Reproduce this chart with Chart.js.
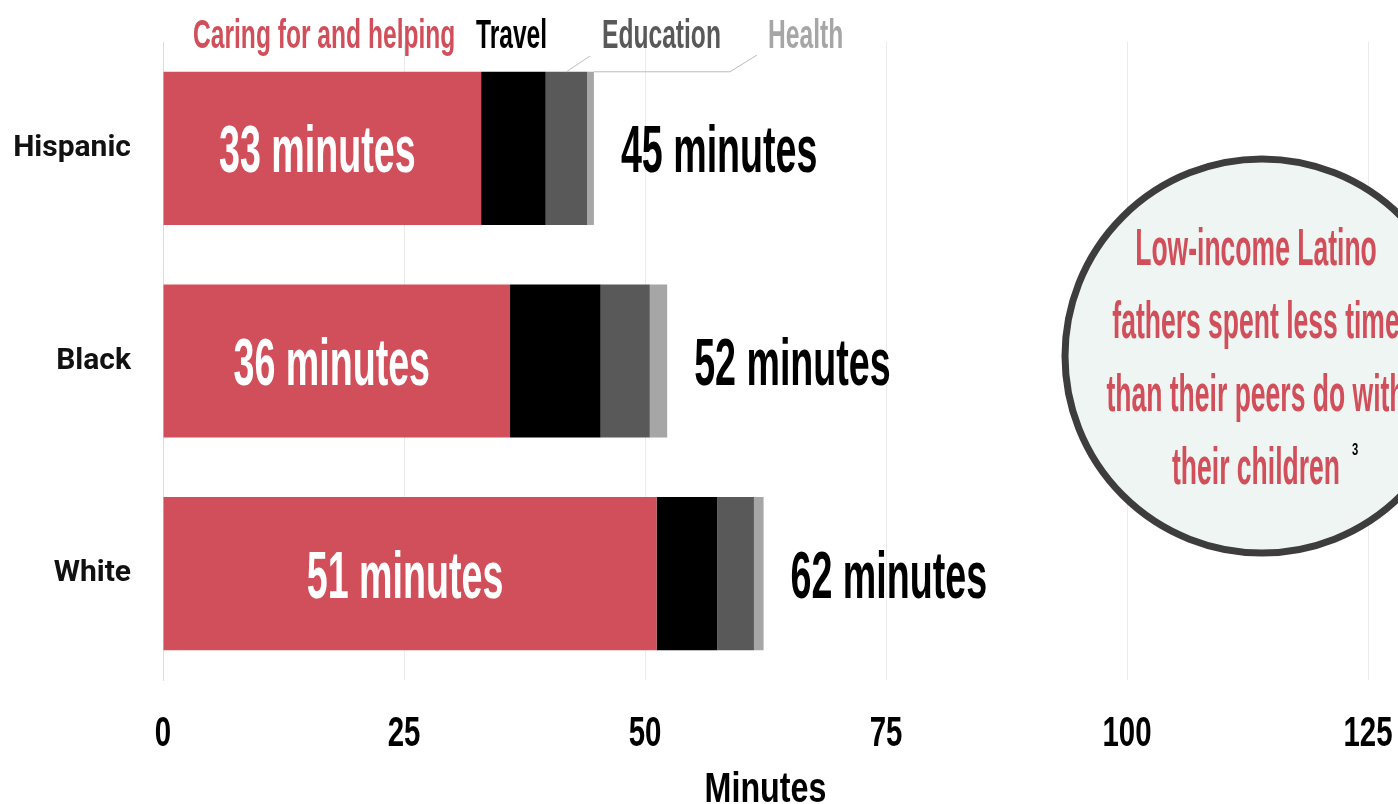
<!DOCTYPE html>
<html>
<head>
<meta charset="utf-8">
<script src="https://cdn.jsdelivr.net/npm/chart.js@4"></script>
<style>
  html, body { margin: 0; padding: 0; background: #fff; overflow: hidden; }
  #wrap { width: 1440px; height: 804px; }
</style>
</head>
<body>
<div id="wrap"><canvas id="chart" width="1440" height="804"></canvas></div>
<script>
// Data
const groups = ['Hispanic', 'Black', 'White'];
const seriesNames = ['Caring for and helping', 'Travel', 'Education', 'Health'];
const caringValues = [33, 36, 51.2];
const travelValues = [6.7, 9.4, 6.3];
const educationValues = [4.3, 5.1, 3.8];
const healthValues = [0.7, 1.8, 1.0];
const caringLabels = ['33 minutes', '36 minutes', '51 minutes'];
const totalLabels = ['45 minutes', '52 minutes', '62 minutes'];
const xTicks = [0, 25, 50, 75, 100, 125];
const calloutLines = ['Low-income Latino', 'fathers spent less time', 'than their peers do with', 'their children'];

const colors = ['#d14f5a', '#000000', '#595959', '#a6a6a6'];
const legendX = [193, 476, 602, 768];

// condensed look: bold sans squeezed horizontally
function squeezeText(ctx, str, x, y, size, color, sx, align) {
    ctx.save();
    ctx.font = 'bold ' + size + 'px "Liberation Sans", Arial, sans-serif';
    ctx.fillStyle = color;
    ctx.textBaseline = 'alphabetic';
    ctx.textAlign = align || 'left';
    ctx.translate(x, y);
    ctx.scale(sx, 1);
    ctx.fillText(str, 0, 0);
    ctx.restore();
}

const overlay = {
    id: 'overlay',
    afterDraw(chart) {
        const ctx = chart.ctx;
        const xs = chart.scales.x;
        const area = chart.chartArea;

        // value labels
        const caringMeta = chart.getDatasetMeta(0);
        const lastMeta = chart.getDatasetMeta(3);
        caringMeta.data.forEach((bar, i) => {
            const mid = (bar.x + bar.base) / 2;
            squeezeText(ctx, caringLabels[i], mid - 5, bar.y + 24, 66, '#ffffff', 0.57, 'center');
            const end = lastMeta.data[i].x;
            squeezeText(ctx, totalLabels[i], end + 27, bar.y + 24, 66, '#000000', 0.57, 'left');
        });

        // legend across the top
        seriesNames.forEach((name, i) => {
            squeezeText(ctx, name, legendX[i], 48, 41, colors[i], 0.6, 'left');
        });

        // leader lines from legend to the first bar
        const eduBar = chart.getDatasetMeta(2).data[0];
        const hBar = lastMeta.data[0];
        const top = eduBar.y - eduBar.height / 2;
        ctx.save();
        ctx.strokeStyle = '#bdbdbd';
        ctx.lineWidth = 1;
        ctx.beginPath();
        ctx.moveTo((eduBar.x + eduBar.base) / 2, top);
        ctx.lineTo(legendX[2] - 12, 56);
        ctx.moveTo(hBar.x, top);
        ctx.lineTo(legendX[3] - 38, top);
        ctx.lineTo(legendX[3] - 11, 55);
        ctx.stroke();
        ctx.restore();

        // x tick labels and title
        xTicks.forEach(v => {
            squeezeText(ctx, String(v), xs.getPixelForValue(v), 746, 42, '#000000', 0.7, 'center');
        });
        squeezeText(ctx, 'Minutes', (area.left + area.right) / 2, 802, 43, '#000000', 0.75, 'center');

        // callout circle
        const cx = 1262, cy = 356, r = 197;
        ctx.save();
        ctx.beginPath();
        ctx.arc(cx, cy, r, 0, Math.PI * 2);
        ctx.fillStyle = '#eef5f2';
        ctx.fill();
        ctx.lineWidth = 7;
        ctx.strokeStyle = '#3d3d3d';
        ctx.stroke();
        ctx.restore();
        calloutLines.forEach((line, i) => {
            squeezeText(ctx, line, 1256, 265 + i * 73, 52, colors[0], 0.51, 'center');
        });
        squeezeText(ctx, '3', 1355, 455, 16, '#000000', 0.7, 'center');
    }
};

new Chart(document.getElementById('chart'), {
    type: 'bar',
    data: {
        labels: groups,
        datasets: [
            { label: seriesNames[0], data: caringValues, backgroundColor: colors[0] },
            { label: seriesNames[1], data: travelValues, backgroundColor: colors[1] },
            { label: seriesNames[2], data: educationValues, backgroundColor: colors[2] },
            { label: seriesNames[3], data: healthValues, backgroundColor: colors[3] }
        ]
    },
    options: {
        indexAxis: 'y',
        responsive: false,
        animation: false,
        datasets: {
            bar: { categoryPercentage: 1.0, barPercentage: 0.72, borderWidth: 0 }
        },
        layout: { padding: { top: 37, right: 72, bottom: 0, left: 0 } },
        plugins: {
            legend: { display: false },
            tooltip: { enabled: false }
        },
        scales: {
            x: {
                stacked: true,
                min: 0,
                max: 125,
                afterBuildTicks(scale) {
                    scale.ticks = xTicks.map(v => ({ value: v }));
                },
                afterFit(scale) { scale.height = 124; },
                grid: { color: '#ebebeb', lineWidth: 1, drawTicks: false },
                border: { display: false },
                ticks: { display: false }
            },
            y: {
                stacked: true,
                afterFit(scale) { scale.width = 163; },
                grid: { display: false },
                border: { display: true, color: '#dcdcdc' },
                ticks: {
                    padding: 24,
                    color: '#111111',
                    font: { family: 'Roboto', weight: 'bold', size: 30 }
                }
            }
        }
    },
    plugins: [overlay]
});
</script>
</body>
</html>
